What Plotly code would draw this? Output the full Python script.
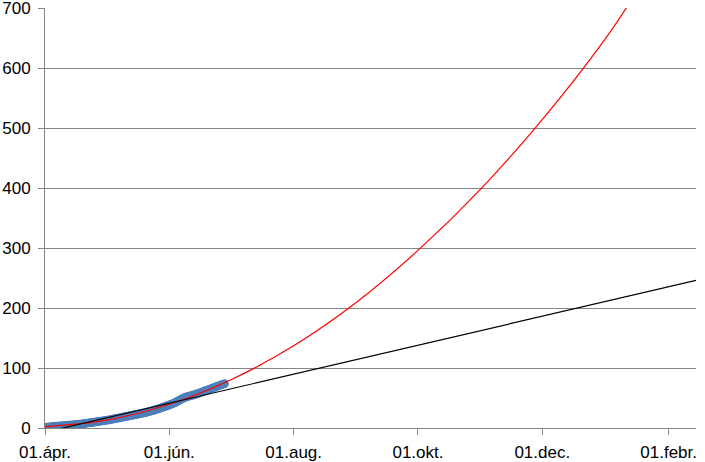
import plotly.graph_objects as go
import pandas as pd

# Observed daily values (blue markers), starting 2020-04-01
data_start = "2020-04-01"
data_values = [
    1.0, 1.3, 1.7, 2.1, 2.5, 2.8, 3.1, 3.4, 3.6, 3.9,
    4.2, 4.5, 4.8, 5.1, 5.4, 5.7, 6.0, 6.4, 6.8, 7.3,
    7.8, 8.3, 8.8, 9.2, 9.7, 10.2, 10.7, 11.2, 11.7, 12.2,
    12.8, 13.3, 13.9, 14.6, 15.3, 16.0, 16.6, 17.2, 17.9, 18.6,
    19.3, 20.0, 20.7, 21.4, 22.0, 22.7, 23.4, 24.1, 24.8, 25.6,
    26.4, 27.3, 28.2, 29.2, 30.2, 31.3, 32.4, 33.6, 34.8, 36.0,
    37.2, 38.4, 39.7, 41.1, 42.7, 44.5, 46.4, 48.2, 49.8, 51.2,
    52.4, 53.4, 54.3, 55.2, 56.2, 57.4, 58.7, 60.0, 61.3, 62.6,
    63.8, 65.0, 66.3, 67.6, 68.9, 70.2, 71.4, 72.6, 73.8,
]
data_dates = pd.date_range(data_start, periods=len(data_values), freq="D")

# Polynomial trend (red)
poly_dates = ["2020-04-01", "2020-05-01", "2020-06-01", "2020-07-01", "2020-08-01",
              "2020-09-01", "2020-10-01", "2020-11-01", "2020-12-01", "2021-01-01",
              "2021-01-15"]
poly_values = [2, 13, 39.5, 80, 137, 210, 296, 399, 514, 649, 720]

# Linear trend (black)
lin_dates = ["2020-04-01", "2021-02-14 10:00"]
lin_values = [-7, 246]

tick_vals = ["2020-04-01", "2020-06-01", "2020-08-01", "2020-10-01", "2020-12-01", "2021-02-01"]
tick_text = ["01.ápr.", "01.jún.", "01.aug.", "01.okt.", "01.dec.", "01.febr."]
y_ticks = [0, 100, 200, 300, 400, 500, 600, 700]

fig = go.Figure()
fig.add_trace(go.Scatter(
    x=data_dates, y=data_values, mode="markers",
    marker=dict(symbol="circle", size=8, color="#4F81BD",
                line=dict(color="#4A7EBB", width=1)),
    showlegend=False, cliponaxis=True,
))
fig.add_trace(go.Scatter(
    x=poly_dates, y=poly_values, mode="lines",
    line=dict(color="#FF0000", width=1.2, shape="spline"),
    showlegend=False,
))
fig.add_trace(go.Scatter(
    x=lin_dates, y=lin_values, mode="lines",
    line=dict(color="#000000", width=1.2),
    showlegend=False,
))

fig.update_layout(
    width=705, height=462,
    margin=dict(l=45, r=9, t=8, b=34),
    paper_bgcolor="white", plot_bgcolor="white",
    font=dict(family="Liberation Sans, Arial, sans-serif", size=17, color="#000000"),
)
fig.update_xaxes(
    range=["2020-04-01", "2021-02-14 10:00"],
    tickvals=tick_vals, ticktext=tick_text,
    showgrid=False, zeroline=False, automargin=False,
    showline=True, linecolor="#868686", linewidth=1,
    ticks="outside", ticklen=6, tickcolor="#868686", tickwidth=1,
    ticklabelstandoff=3, ticklabeloverflow="allow",
)
fig.update_yaxes(
    range=[0, 700], tickvals=y_ticks,
    showgrid=True, gridcolor="#868686", gridwidth=1,
    zeroline=False, automargin=False,
    showline=True, linecolor="#868686", linewidth=1,
    ticks="outside", ticklen=6, tickcolor="#868686", tickwidth=1,
    ticklabelstandoff=4, ticklabeloverflow="allow",
)

fig.write_html(
    "out.html",
    config={"displayModeBar": False},
    post_script="document.body.style.margin='0';document.body.style.padding='0';",
)
